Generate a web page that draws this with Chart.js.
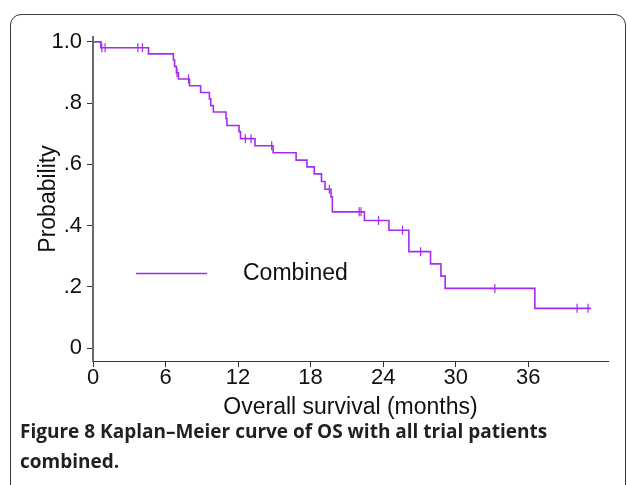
<!DOCTYPE html>
<html>
<head>
<meta charset="utf-8">
<script src="https://cdn.jsdelivr.net/npm/chart.js@4.4.0/dist/chart.umd.min.js"></script>
<style>
  html, body { margin: 0; padding: 0; background: #fff; }
  body { width: 628px; height: 485px; overflow: hidden; position: relative; }
  #frame { position: absolute; left: 10px; top: 14px; width: 614px; height: 520px;
           border: 1.5px solid #3a3a3a; border-radius: 11px; }
  #chart { position: absolute; left: 0; top: 0; }
  #caption { position: absolute; left: 20px; top: 416px; font-family: "Open Sans", sans-serif;
             font-weight: 700; font-size: 19px; line-height: 30px; color: #231f20; white-space: nowrap; }
</style>
</head>
<body>
<div id="frame"></div>
<canvas id="chart" width="628" height="485"></canvas>
<div id="caption">Figure 8 Kaplan–Meier curve of OS with all trial patients<br>combined.</div>
<script>
// Kaplan-Meier steps: time of event (months) and survival after it
const months   = [0, 0.65, 4.59, 6.65, 6.75, 6.9, 7.07, 7.98, 8.9, 9.63, 9.74, 9.96, 11.0, 11.08,
                  12.08, 12.2, 13.4, 14.9, 16.8, 17.7, 18.3, 18.9, 19.19, 19.69, 19.8, 22.45,
                  24.48, 26.13, 27.92, 28.78, 29.13, 36.55];
const survival = [1.0, 0.981, 0.961, 0.941, 0.92, 0.899, 0.879, 0.857, 0.835, 0.814, 0.792, 0.771,
                  0.75, 0.727, 0.707, 0.684, 0.661, 0.638, 0.614, 0.592, 0.569, 0.544, 0.519,
                  0.494, 0.445, 0.417, 0.385, 0.315, 0.275, 0.235, 0.195, 0.13];
const lastFollowUp = 41.2;
// censored patients (months)
const censorMonths = [0.73, 1.0, 3.71, 4.09, 6.95, 7.9, 12.6, 13.07, 14.78, 19.55, 22.02, 22.17,
                      23.62, 25.6, 27.1, 33.24, 40.04, 40.95];
const xTicks = [0, 6, 12, 18, 24, 30, 36];
const yTicks = [0, 0.2, 0.4, 0.6, 0.8, 1.0];
const yTickLabels = ['0', '.2', '.4', '.6', '.8', '1.0'];

const lineColor = '#a42cf0';
const font = 'Liberation Sans';

function survivalAt(t) {
  let s = survival[0];
  for (let i = 0; i < months.length; i++) {
    if (months[i] <= t) s = survival[i];
  }
  return s;
}

const curve = months.map((m, i) => ({ x: m, y: survival[i] }));
curve.push({ x: lastFollowUp, y: survival[survival.length - 1] });
const censored = censorMonths.map(m => ({ x: m, y: survivalAt(m) }));

const insideLegend = {
  id: 'insideLegend',
  afterDatasetsDraw(chart) {
    const ctx = chart.ctx;
    const ds = chart.data.datasets[0];
    ctx.save();
    ctx.strokeStyle = ds.borderColor;
    ctx.lineWidth = ds.borderWidth;
    ctx.beginPath();
    ctx.moveTo(136, 273.5);
    ctx.lineTo(207, 273.5);
    ctx.stroke();
    ctx.fillStyle = '#111';
    ctx.font = '23px "' + font + '"';
    ctx.textBaseline = 'middle';
    ctx.fillText(ds.label, 243, 274);
    ctx.restore();
  }
};

new Chart(document.getElementById('chart'), {
  type: 'line',
  data: {
    datasets: [
      {
        label: 'Combined',
        data: curve,
        stepped: true,
        borderColor: lineColor,
        borderWidth: 1.6,
        pointRadius: 0,
        fill: false
      },
      {
        label: 'censored',
        data: censored,
        showLine: false,
        pointStyle: 'line',
        rotation: 90,
        pointRadius: 4.5,
        pointBorderWidth: 1.2,
        pointBorderColor: lineColor,
        borderColor: lineColor
      }
    ]
  },
  options: {
    responsive: false,
    animation: false,
    layout: { padding: { top: 37, right: 20, left: 0, bottom: 64 } },
    plugins: { legend: { display: false }, tooltip: { enabled: false } },
    scales: {
      x: {
        type: 'linear',
        min: 0,
        max: 42.6,
        afterBuildTicks: s => { s.ticks = xTicks.map(v => ({ value: v })); },
        afterFit: s => { s.height = 60; },
        ticks: { font: { family: font, size: 22, lineHeight: 1 }, color: '#111', padding: 0,
                 maxRotation: 0, autoSkip: false },
        grid: { drawOnChartArea: false, drawTicks: true, tickLength: 6, color: '#333', lineWidth: 1 },
        border: { display: true, color: '#333', width: 1 },
        title: { display: true, text: 'Overall survival (months)', color: '#111',
                 font: { family: font, size: 23 }, padding: { top: 0, bottom: 0 } }
      },
      y: {
        type: 'linear',
        min: -0.042,
        max: 1.016,
        afterBuildTicks: s => { s.ticks = yTicks.map(v => ({ value: v })); },
        afterFit: s => { s.width = 93; },
        ticks: { font: { family: font, size: 22, lineHeight: 1 }, color: '#111', padding: 5,
                 autoSkip: false,
                 callback: v => yTickLabels[yTicks.indexOf(v)] },
        grid: { drawOnChartArea: false, drawTicks: true, tickLength: 6, color: '#333', lineWidth: 1 },
        border: { display: true, color: '#6a6a6a', width: 2 },
        title: { display: true, text: 'Probability', color: '#111',
                 font: { family: font, size: 23 }, padding: { top: 35, bottom: 0 } }
      }
    }
  },
  plugins: [insideLegend]
});
</script>
</body>
</html>
